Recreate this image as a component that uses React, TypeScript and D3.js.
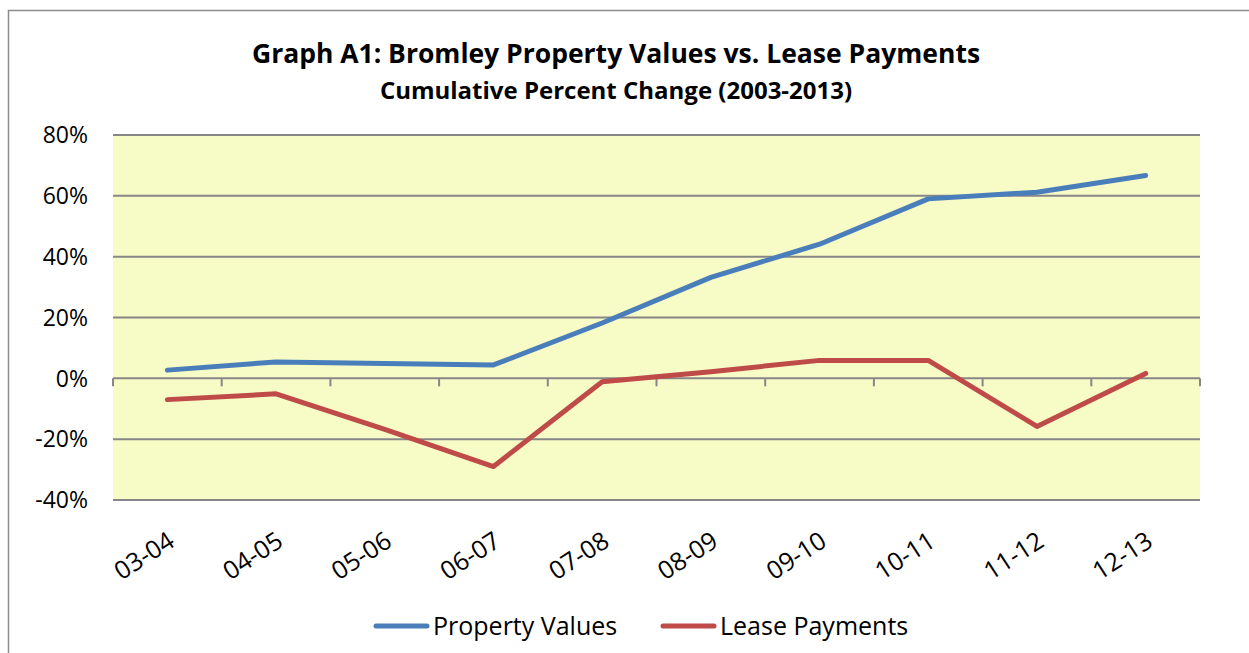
import React, { useRef, useEffect } from 'react';
import * as d3 from 'd3';

const periods = ['03-04', '04-05', '05-06', '06-07', '07-08', '08-09', '09-10', '10-11', '11-12', '12-13'];
const propertyValues = [2.7, 5.4, 4.9, 4.4, 18.2, 33.2, 44.1, 59.0, 61.2, 66.7];
const leasePayments = [-7.0, -5.1, -16.8, -29.0, -1.1, 2.2, 5.9, 5.9, -15.8, 1.6];
const yTicks = [-40, -20, 0, 20, 40, 60, 80];

const seriesList = [
  { name: 'Property Values', values: propertyValues, color: '#4a7ebb' },
  { name: 'Lease Payments', values: leasePayments, color: '#be4b48' },
];

const W = 1249;
const H = 653;
const font = '"Open Sans", "DejaVu Sans", sans-serif';

export default function App() {
  const ref = useRef<SVGSVGElement>(null);

  useEffect(() => {
    const svg = d3.select(ref.current);
    svg.selectAll('*').remove();

    const left = 113, right = 1200, top = 135, bottom = 500;

    // outer chart border (runs off the right and bottom of the picture)
    svg.append('rect')
      .attr('x', 8.5).attr('y', 10.5)
      .attr('width', 1400).attr('height', 800)
      .attr('fill', '#fff')
      .attr('stroke', '#8c8c8c').attr('stroke-width', 1.5);

    const x = d3.scaleBand<string>().domain(periods).range([left, right]);
    const y = d3.scaleLinear().domain([-40, 80]).range([bottom, top]);

    svg.append('rect')
      .attr('x', left).attr('y', top)
      .attr('width', right - left).attr('height', bottom - top)
      .attr('fill', '#f7fbc6');

    // gridlines
    svg.append('g').selectAll('line')
      .data(yTicks)
      .join('line')
      .attr('x1', left).attr('x2', right)
      .attr('y1', d => y(d)).attr('y2', d => y(d))
      .attr('stroke', '#878787').attr('stroke-width', 2);

    // y labels
    svg.append('g').selectAll('text')
      .data(yTicks)
      .join('text')
      .attr('x', 88).attr('y', d => y(d))
      .attr('dy', '0.36em')
      .attr('text-anchor', 'end')
      .attr('font-family', font).attr('font-size', 23)
      .attr('fill', '#000')
      .text(d => `${d}%`);

    // category ticks on the zero line
    const edges = periods.map(p => x(p)!).concat([right]);
    svg.append('g').selectAll('line')
      .data(edges)
      .join('line')
      .attr('x1', d => d).attr('x2', d => d)
      .attr('y1', y(0)).attr('y2', y(0) + 8)
      .attr('stroke', '#878787').attr('stroke-width', 2);

    // category labels
    svg.append('g').selectAll('text')
      .data(periods)
      .join('text')
      .attr('transform', p => `translate(${x(p)! + x.bandwidth() / 2 - 1},${bottom + 30}) rotate(-33)`)
      .attr('text-anchor', 'end')
      .attr('dy', '0.72em')
      .attr('font-family', font).attr('font-size', 25)
      .attr('fill', '#000')
      .text(p => p);

    const line = d3.line<number>()
      .x((_, i) => x(periods[i])! + x.bandwidth() / 2)
      .y(d => y(d));

    seriesList.forEach(s => {
      svg.append('path')
        .datum(s.values)
        .attr('d', line)
        .attr('fill', 'none')
        .attr('stroke', s.color)
        .attr('stroke-width', 5)
        .attr('stroke-linecap', 'round')
        .attr('stroke-linejoin', 'round');
    });

    // title
    svg.append('text')
      .attr('x', 616).attr('y', 63)
      .attr('text-anchor', 'middle')
      .attr('font-family', font).attr('font-weight', 'bold').attr('font-size', 26.5)
      .attr('fill', '#000')
      .text('Graph A1: Bromley Property Values vs. Lease Payments');
    svg.append('text')
      .attr('x', 616).attr('y', 99)
      .attr('text-anchor', 'middle')
      .attr('font-family', font).attr('font-weight', 'bold').attr('font-size', 24)
      .attr('fill', '#000')
      .text('Cumulative Percent Change (2003-2013)');

    // legend
    const legendPos = [374, 661];
    seriesList.forEach((s, i) => {
      const lx = legendPos[i];
      svg.append('line')
        .attr('x1', lx + 2).attr('x2', lx + 53)
        .attr('y1', 626).attr('y2', 626)
        .attr('stroke', s.color).attr('stroke-width', 5)
        .attr('stroke-linecap', 'round');
      svg.append('text')
        .attr('x', lx + 59).attr('y', 626)
        .attr('dy', '0.36em')
        .attr('font-family', font).attr('font-size', 25)
        .attr('fill', '#000')
        .text(s.name);
    });
  }, []);

  return (
    <svg ref={ref} width={W} height={H}
      style={{ position: 'absolute', left: 0, top: 0, background: '#fff' }} />
  );
}
